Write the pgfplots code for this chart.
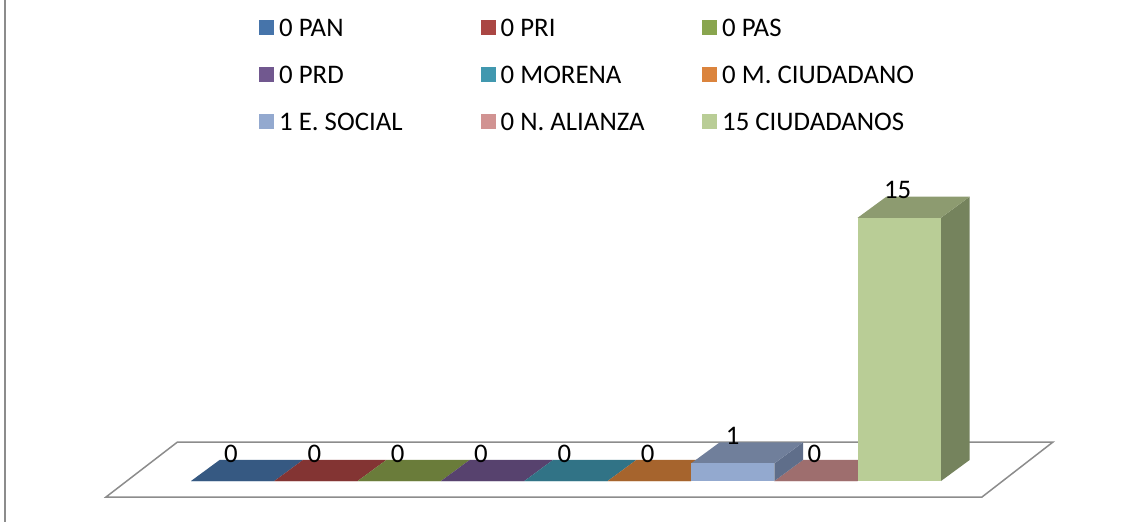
\documentclass[border=0pt]{standalone}
\usepackage{pgfplots}
\pgfplotsset{compat=1.18}
\usepackage{fontspec}
\setmainfont{Carlito}
\definecolor{cA}{HTML}{4674AA}\definecolor{cB}{HTML}{AA4643}\definecolor{cC}{HTML}{89A54E}
\definecolor{cD}{HTML}{71588F}\definecolor{cE}{HTML}{4198AF}\definecolor{cF}{HTML}{DB843D}
\definecolor{cG}{HTML}{93A9CF}\definecolor{cH}{HTML}{D19392}\definecolor{cI}{HTML}{B9CD96}
\definecolor{tA}{HTML}{365982}\definecolor{tB}{HTML}{833433}\definecolor{tC}{HTML}{6A7C3A}
\definecolor{tD}{HTML}{57426E}\definecolor{tE}{HTML}{317386}\definecolor{tF}{HTML}{A6642D}
\definecolor{tG}{HTML}{707F9B}\definecolor{sG}{HTML}{5F6E8A}\definecolor{tH}{HTML}{9E6E6E}
\definecolor{tI}{HTML}{8D9B70}\definecolor{sI}{HTML}{75835D}
\definecolor{frameg}{HTML}{8C8C8C}
\newcommand{\LE}[1]{\addlegendentry{\makebox[199.5pt][l]{\rule[-6pt]{0pt}{24pt}#1}}}
\begin{document}
\begin{tikzpicture}
\useasboundingbox (0,0) rectangle (1146pt,522pt);
\begin{axis}[
  at={(0,0)}, anchor=south west,
  width=1146pt, height=522pt, scale only axis, hide axis, clip=false,
  xmin=-2.792, xmax=10.96, ymin=-2.336, ymax=27.41,
  /pgf/number format/assume math mode=true,
  legend columns=3,
  legend image code/.code={\path[fill,#1] (0pt,-7.5pt) rectangle (15pt,7.5pt);},
  legend style={at={(axis cs:0.316,26.5)}, anchor=north west, draw=none, fill=none,
    font=\fontsize{26.8}{30}\selectfont, row sep=23.5pt, inner sep=0pt,
    /tikz/every odd column/.style={column sep=3pt}},
]
% plot frame and floor
\addplot[forget plot, draw=frameg, line width=1.8pt] coordinates {(-2.732,-2.336) (-2.732,27.41)};
\addplot[forget plot, draw=frameg, fill=white, line width=1.5pt] coordinates {(-1.52,-0.912) (8.992,-0.912) (9.844,2.222) (-0.662,2.222)} --cycle;
% tops of zero bars
\addplot[forget plot, fill=tA, draw=none] coordinates {(-0.5,0) (0.5,0) (0.844,1.2) (-0.156,1.2)} --cycle;
\addplot[forget plot, fill=tB, draw=none] coordinates {(0.5,0) (1.5,0) (1.844,1.2) (0.844,1.2)} --cycle;
\addplot[forget plot, fill=tC, draw=none] coordinates {(1.5,0) (2.5,0) (2.844,1.2) (1.844,1.2)} --cycle;
\addplot[forget plot, fill=tD, draw=none] coordinates {(2.5,0) (3.5,0) (3.844,1.2) (2.844,1.2)} --cycle;
\addplot[forget plot, fill=tE, draw=none] coordinates {(3.5,0) (4.5,0) (4.844,1.2) (3.844,1.2)} --cycle;
\addplot[forget plot, fill=tF, draw=none] coordinates {(4.5,0) (5.5,0) (5.844,1.2) (4.844,1.2)} --cycle;
\addplot[forget plot, fill=tH, draw=none] coordinates {(6.5,0) (7.5,0) (7.844,1.2) (6.844,1.2)} --cycle;
% E. SOCIAL faces
\addplot[forget plot, fill=sG, draw=none] coordinates {(6.5,0) (6.844,1.2) (6.844,2.2) (6.5,1)} --cycle;
\addplot[forget plot, fill=tG, draw=none] coordinates {(5.5,1) (6.5,1) (6.844,2.2) (5.844,2.2)} --cycle;
% CIUDADANOS faces
\addplot[forget plot, fill=sI, draw=none] coordinates {(8.5,0) (8.844,1.2) (8.844,16.2) (8.5,15)} --cycle;
\addplot[forget plot, fill=tI, draw=none] coordinates {(7.5,15) (8.5,15) (8.844,16.2) (7.844,16.2)} --cycle;
% bars
\addplot[ybar, bar width=83.33pt, bar shift=0pt, fill=cA, draw=none] coordinates {(0,0)}; \LE{0 PAN}
\addplot[ybar, bar width=83.33pt, bar shift=0pt, fill=cB, draw=none] coordinates {(1,0)}; \LE{0 PRI}
\addplot[ybar, bar width=83.33pt, bar shift=0pt, fill=cC, draw=none] coordinates {(2,0)}; \LE{0 PAS}
\addplot[ybar, bar width=83.33pt, bar shift=0pt, fill=cD, draw=none] coordinates {(3,0)}; \LE{0 PRD}
\addplot[ybar, bar width=83.33pt, bar shift=0pt, fill=cE, draw=none] coordinates {(4,0)}; \LE{0 MORENA}
\addplot[ybar, bar width=83.33pt, bar shift=0pt, fill=cF, draw=none] coordinates {(5,0)}; \LE{0 M. CIUDADANO}
\addplot[ybar, bar width=83.33pt, bar shift=0pt, fill=cG, draw=none] coordinates {(6,1)}; \LE{1 E. SOCIAL}
\addplot[ybar, bar width=83.33pt, bar shift=0pt, fill=cH, draw=none] coordinates {(7,0)}; \LE{0 N. ALIANZA}
\addplot[ybar, bar width=83.33pt, bar shift=0pt, fill=cI, draw=none] coordinates {(8,15)}; \LE{15 CIUDADANOS}
% data labels
\addplot[forget plot, draw=none, nodes near coords, every node near coord/.style={anchor=center, yshift=27.5pt, inner sep=0pt, font=\fontsize{26.8}{30}\selectfont, text=black}]
 coordinates {(-0.02,0) (0.98,0) (1.98,0) (2.98,0) (3.98,0) (4.98,0) (6,1) (6.98,0) (7.98,15)};
\end{axis}
\end{tikzpicture}
\end{document}
